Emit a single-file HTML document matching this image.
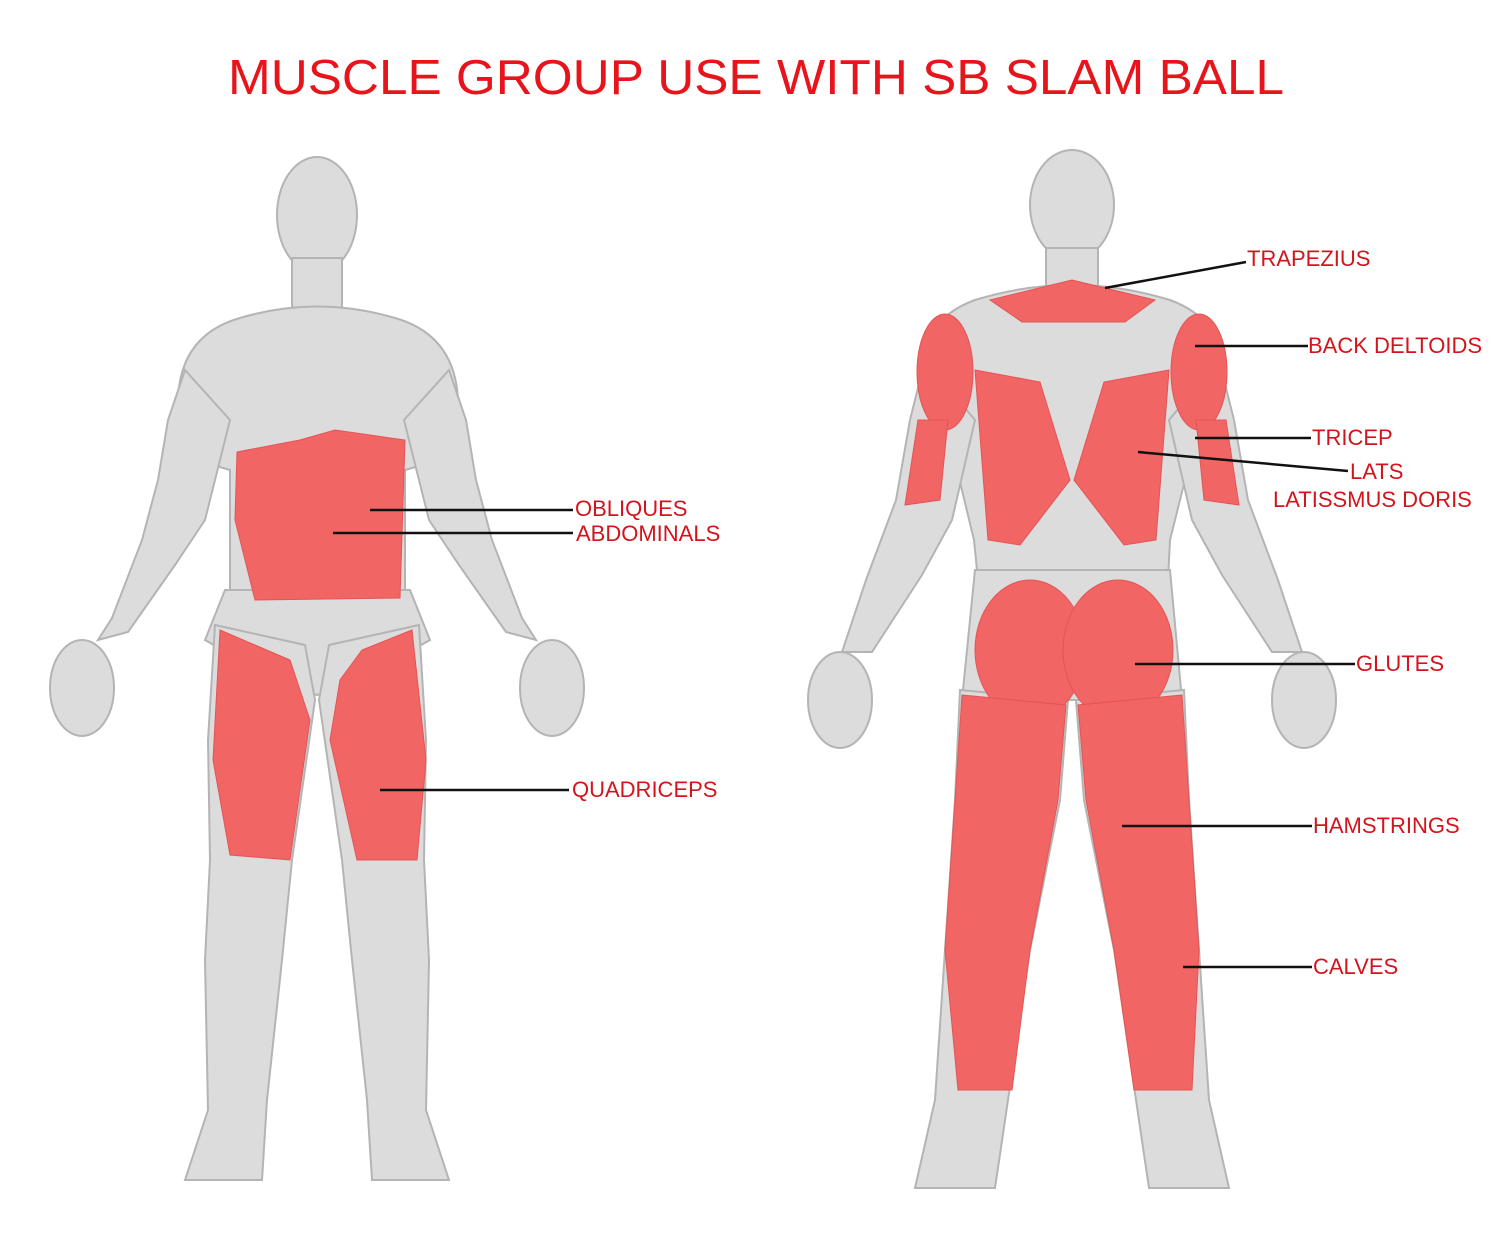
<!DOCTYPE html>
<html><head><meta charset="utf-8">
<style>
html,body{margin:0;padding:0;background:#fff;}
svg{display:block;}
text{font-family:"Liberation Sans",Arial,sans-serif;}
</style></head>
<body>
<svg width="1500" height="1252" viewBox="0 0 1500 1252" xmlns="http://www.w3.org/2000/svg">
<rect width="1500" height="1252" fill="#fff"/>
<text x="756" y="94" text-anchor="middle" font-size="49" fill="#e8141c" textLength="1056" lengthAdjust="spacingAndGlyphs">MUSCLE GROUP USE WITH SB SLAM BALL</text>

<g fill="#dcdcdc" stroke="#b4b4b4" stroke-width="2">
<!-- FRONT -->
<ellipse cx="317" cy="215" rx="40" ry="58"/>
<rect x="292" y="258" width="50" height="55"/>
<path d="M240 318 Q317 295 395 318 Q455 335 458 400 L440 460 L405 470 L405 600 L230 600 L230 470 L195 460 L178 400 Q180 335 240 318 Z"/>
<polygon points="185,370 230,420 205,520 175,565 128,632 98,640 112,618 142,540 158,480 168,420"/>
<polygon points="449,370 404,420 429,520 459,565 506,632 536,640 522,618 492,540 476,480 466,420"/>
<ellipse cx="82" cy="688" rx="32" ry="48"/>
<ellipse cx="552" cy="688" rx="32" ry="48"/>
<path d="M225 590 L410 590 L430 640 L340 690 L317 695 L294 690 L205 640 Z"/>
<polygon points="215,625 305,645 315,700 292,860 282,960 267,1100 262,1180 185,1180 208,1110 205,960 210,860 208,740"/>
<polygon points="419,625 329,645 319,700 342,860 352,960 367,1100 372,1180 449,1180 426,1110 429,960 424,860 426,740"/>
<!-- BACK -->
<ellipse cx="1072" cy="205" rx="42" ry="55"/>
<rect x="1046" y="248" width="52" height="50"/>
<path d="M975 300 Q1072 270 1170 300 Q1225 320 1225 380 L1200 420 L1170 540 L1168 580 L978 580 L974 540 L945 420 L918 380 Q920 320 975 300 Z"/>
<polygon points="925,360 975,420 952,520 922,575 872,652 842,652 866,580 896,500 910,420"/>
<polygon points="1219,360 1169,420 1192,520 1222,575 1272,652 1302,652 1278,580 1248,500 1234,420"/>
<ellipse cx="840" cy="700" rx="32" ry="48"/>
<ellipse cx="1304" cy="700" rx="32" ry="48"/>
<path d="M975 570 L1170 570 L1182 700 L962 700 Z"/>
<polygon points="960,690 1068,700 1060,800 1030,950 1008,1100 995,1188 915,1188 935,1100 945,950 955,800"/>
<polygon points="1184,690 1076,700 1084,800 1114,950 1136,1100 1149,1188 1229,1188 1209,1100 1199,950 1189,800"/>
</g>

<g fill="#f26565" stroke="#e45454" stroke-width="1">
<polygon points="237,452 300,440 335,430 405,440 400,598 255,600 235,520"/>
<polygon points="220,630 290,660 310,720 290,860 230,855 213,760"/>
<polygon points="412,630 426,760 417,860 357,860 330,740 340,680 362,650"/>
<polygon points="990,300 1072,280 1155,300 1125,322 1072,322 1022,322"/>
<ellipse cx="945" cy="372" rx="28" ry="58"/>
<ellipse cx="1199" cy="372" rx="28" ry="58"/>
<polygon points="918,420 948,420 940,500 905,505"/>
<polygon points="1226,420 1196,420 1204,500 1239,505"/>
<polygon points="975,370 1040,382 1070,480 1020,545 988,540"/>
<polygon points="1169,370 1104,382 1074,480 1124,545 1156,540"/>
<ellipse cx="1030" cy="650" rx="55" ry="70"/>
<ellipse cx="1118" cy="650" rx="55" ry="70"/>
<polygon points="962,695 1066,705 1058,800 1030,950 1012,1090 958,1090 945,950 955,800"/>
<polygon points="1182,695 1078,705 1086,800 1114,950 1134,1090 1192,1090 1199,950 1189,800"/>
</g>

<g stroke="#111" stroke-width="2.5">
<line x1="370" y1="510" x2="573" y2="510"/>
<line x1="333" y1="533" x2="573" y2="533"/>
<line x1="380" y1="790" x2="569" y2="790"/>
<line x1="1105" y1="288" x2="1246" y2="262"/>
<line x1="1195" y1="346" x2="1308" y2="346"/>
<line x1="1195" y1="438" x2="1311" y2="438"/>
<line x1="1138" y1="452" x2="1348" y2="471"/>
<line x1="1135" y1="664" x2="1355" y2="664"/>
<line x1="1122" y1="826" x2="1312" y2="826"/>
<line x1="1183" y1="967" x2="1312" y2="967"/>
</g>

<g fill="#d3141c" font-size="22">
<text x="575" y="516">OBLIQUES</text>
<text x="576" y="541">ABDOMINALS</text>
<text x="572" y="797">QUADRICEPS</text>
<text x="1247" y="266">TRAPEZIUS</text>
<text x="1308" y="353">BACK DELTOIDS</text>
<text x="1312" y="445">TRICEP</text>
<text x="1350" y="479">LATS</text>
<text x="1273" y="507">LATISSMUS DORIS</text>
<text x="1356" y="671">GLUTES</text>
<text x="1313" y="833">HAMSTRINGS</text>
<text x="1313" y="974">CALVES</text>
</g>
</svg>
</body></html>
